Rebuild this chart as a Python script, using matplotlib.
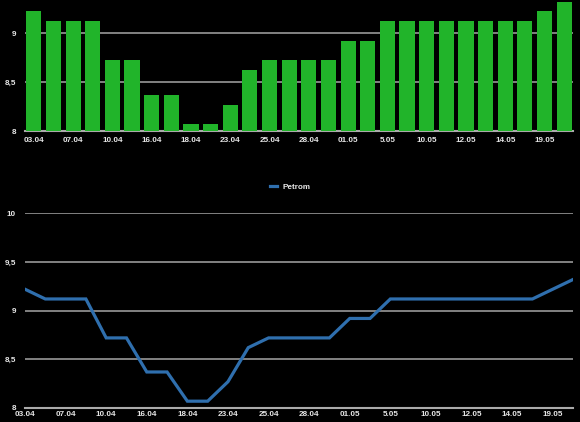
import matplotlib
matplotlib.use("Agg")
import matplotlib.pyplot as plt
from matplotlib.ticker import FuncFormatter

dates = ["03.04", "05.04", "07.04", "09.04", "10.04", "14.04", "16.04", "17.04",
         "18.04", "22.04", "23.04", "24.04", "25.04", "27.04", "28.04", "30.04",
         "01.05", "04.05", "5.05", "08.05", "10.05", "11.05", "12.05", "13.05",
         "14.05", "15.05", "19.05", "20.05"]
values = [9.22, 9.12, 9.12, 9.12, 8.72, 8.72, 8.37, 8.37, 8.07, 8.07, 8.27, 8.62,
          8.72, 8.72, 8.72, 8.72, 8.92, 8.92, 9.12, 9.12, 9.12, 9.12, 9.12, 9.12,
          9.12, 9.12, 9.22, 9.32]
series_name = "Petrom"
yticks_top = [8, 8.5, 9]
yticks_bottom = [8, 8.5, 9, 9.5, 10]

plt.rcParams['font.family'] = ['Liberation Sans', 'DejaVu Sans']
plt.rcParams['font.weight'] = 'bold'
txt = '#e6e6e6'
grid = '#8c8c8c'
fs = 5.9

fig = plt.figure(figsize=(5.8, 4.22), dpi=100, facecolor='black')

def fmt(v, pos):
    return ('%g' % v).replace('.', ',')

x = list(range(len(values)))

# top bar chart
ax1 = fig.add_axes([25/580, 1-131/422, 548/580, 131/422])
ax1.set_facecolor('black')
ax1.bar(x, values, width=0.77, color='#21b42a', zorder=3)
ax1.set_ylim(8, 9.337)
ax1.set_xlim(-0.45, len(values) - 0.55)
ax1.set_yticks(yticks_top)
ax1.yaxis.set_major_formatter(FuncFormatter(fmt))
ax1.set_xticks(x[::2])
ax1.set_xticklabels(dates[::2])
ax1.grid(axis='y', color=grid, lw=1.3, zorder=1)
for s in ['top', 'right', 'left']:
    ax1.spines[s].set_visible(False)
ax1.spines['bottom'].set_color('#aaaaaa')
ax1.spines['bottom'].set_linewidth(1.5)
ax1.tick_params(length=0, colors=txt, labelsize=fs, pad=4)
ax1.tick_params(axis='y', pad=6.5)

# bottom line chart
ax2 = fig.add_axes([25/580, 1-408/422, 548/580, (408-213.3)/422])
ax2.set_facecolor('black')
ax2.plot(x, values, color='#2f6fae', lw=2.3, label=series_name, zorder=3,
         solid_joinstyle='miter')
ax2.set_ylim(8, 10)
ax2.set_xlim(0, len(values) - 1)
ax2.set_yticks(yticks_bottom)
ax2.yaxis.set_major_formatter(FuncFormatter(fmt))
ax2.set_xticks(x[::2])
ax2.set_xticklabels(dates[::2])
ax2.grid(axis='y', color=grid, lw=1.3, zorder=1)
for s in ['top', 'right', 'left']:
    ax2.spines[s].set_visible(False)
ax2.spines['bottom'].set_color('#aaaaaa')
ax2.spines['bottom'].set_linewidth(1.5)
ax2.tick_params(length=0, colors=txt, labelsize=fs, pad=2)
ax2.tick_params(axis='y', pad=6.5)
leg = ax2.legend(loc='center', bbox_to_anchor=(290/580, 1-187/422),
                 bbox_transform=fig.transFigure, frameon=False, fontsize=fs,
                 handlelength=0.9, handletextpad=0.6)
for t in leg.get_texts():
    t.set_color(txt)

fig.savefig('out.png', dpi=100, facecolor='black')
